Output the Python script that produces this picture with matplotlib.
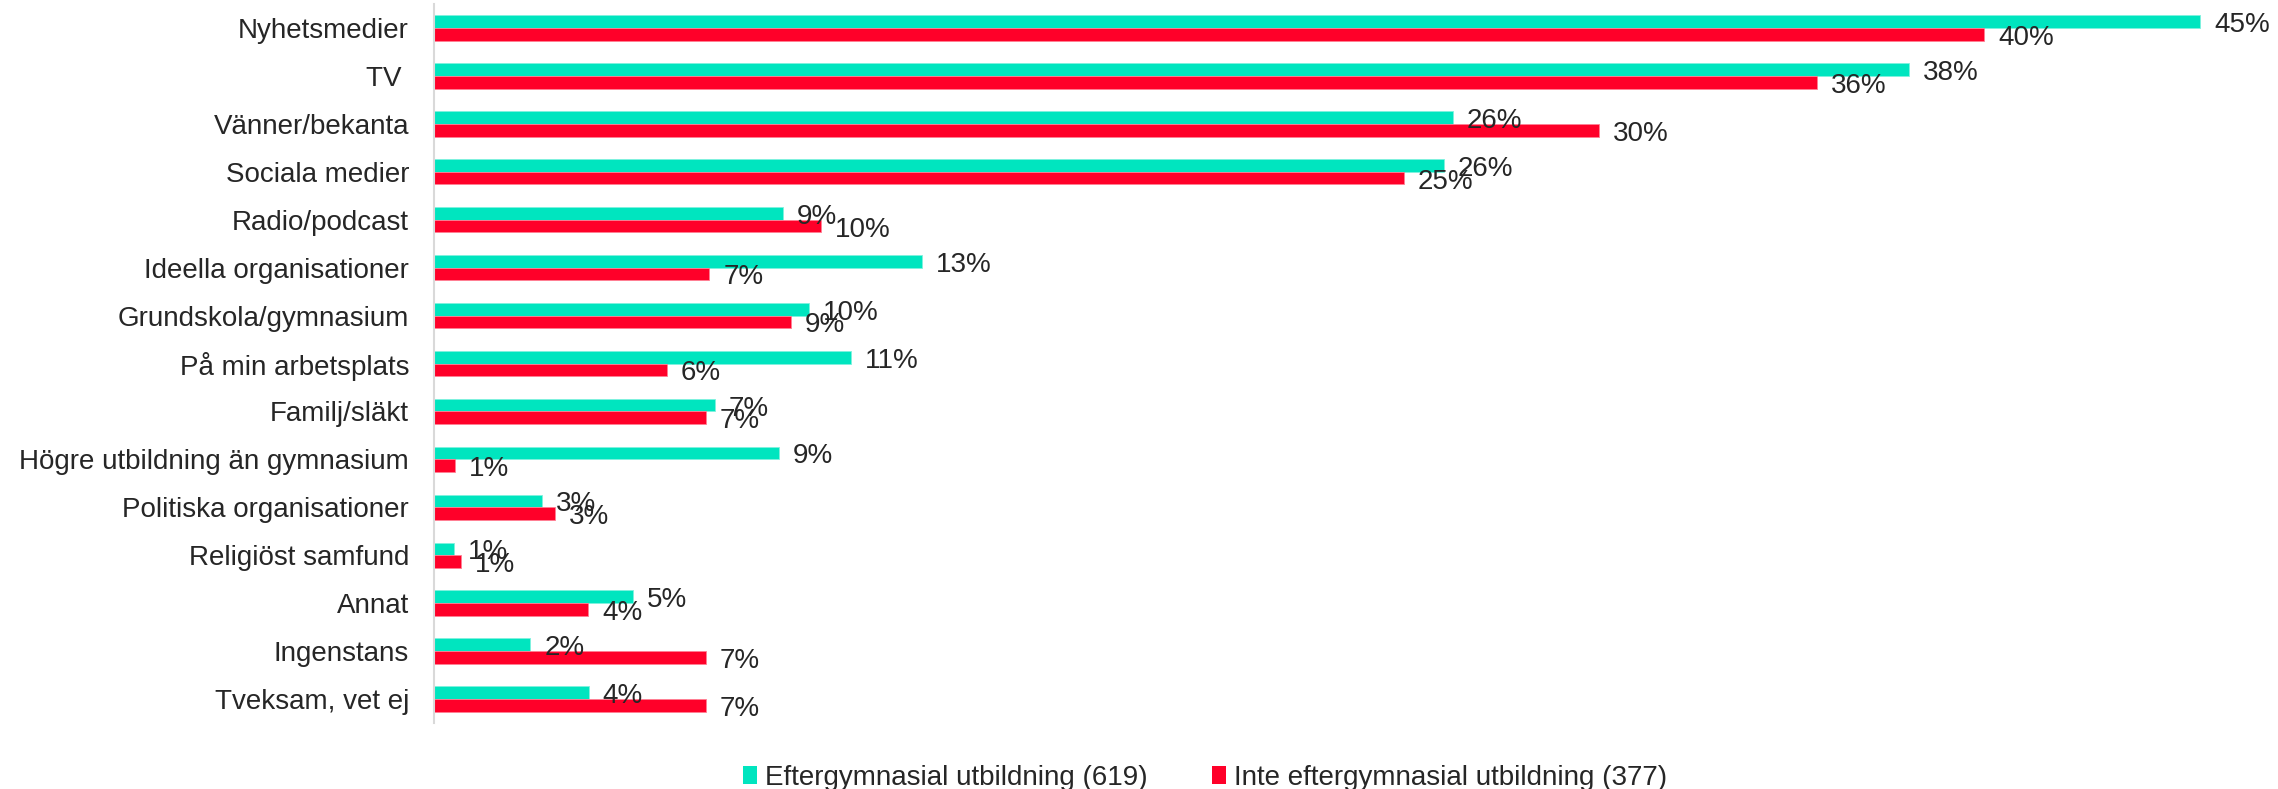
import matplotlib.pyplot as plt
from matplotlib.patches import Patch
import numpy as np

# data
categories = [
    "Nyhetsmedier", "TV ", "Vänner/bekanta", "Sociala medier", "Radio/podcast",
    "Ideella organisationer", "Grundskola/gymnasium", "På min arbetsplats",
    "Familj/släkt", "Högre utbildning än gymnasium", "Politiska organisationer",
    "Religiöst samfund", "Annat", "Ingenstans", "Tveksam, vet ej",
]
eftergymnasial = [45.4, 37.93, 26.19, 25.96, 8.97, 12.54, 9.64, 10.72, 7.22, 8.87,
                  2.78, 0.52, 5.12, 2.48, 3.98]
inte_eftergymnasial = [39.85, 35.56, 29.96, 24.94, 9.94, 7.08, 9.18, 5.98, 6.99, 0.54,
                       3.11, 0.69, 3.96, 6.99, 6.99]
series_names = ["Eftergymnasial utbildning (619)", "Inte eftergymnasial utbildning (377)"]

GREEN = "#00E5BF"
RED = "#FF0029"
TXT = "#262626"
FS = 20

plt.rcParams['font.family'] = ['Liberation Sans', 'DejaVu Sans']

W, H = 2278, 789
fig = plt.figure(figsize=(W / 100, H / 100), dpi=100)
ax_left = 434 / W
ax_top = 1 - 4 / H
ax_bottom = 1 - 723 / H
ax = fig.add_axes([ax_left, ax_bottom, 1 - ax_left, ax_top - ax_bottom])

y = np.arange(len(categories))
bh = 0.265
bars_g = ax.barh(y - bh / 2, eftergymnasial, height=bh, color=GREEN,
                 edgecolor="#7FF2DF", linewidth=0.6)
bars_r = ax.barh(y + bh / 2, inte_eftergymnasial, height=bh, color=RED,
                 edgecolor="#FF8094", linewidth=0.6)

# direct labels at the bar ends
for bars, vals in ((bars_g, eftergymnasial), (bars_r, inte_eftergymnasial)):
    for b, v in zip(bars, vals):
        ax.annotate(f"{round(v)}%",
                    xy=(b.get_width(), b.get_y() + b.get_height() / 2),
                    xytext=(10, -2.5), textcoords="offset points",
                    ha="left", va="center", fontsize=FS, color=TXT)

px_per_pct = 38.9
ax.set_xlim(0, (W - 434) / px_per_pct)
ax.set_ylim(len(categories) - 0.5, -0.5)
ax.set_yticks(y)
ax.set_yticklabels(categories, fontsize=FS, color=TXT)
ax.tick_params(axis="y", length=0, pad=18)
ax.set_xticks([])

for side in ("top", "right", "bottom"):
    ax.spines[side].set_visible(False)
ax.spines["left"].set_color("#D9D9D9")
ax.spines["left"].set_linewidth(1.5)

handles = [Patch(facecolor=GREEN, edgecolor="none"), Patch(facecolor=RED, edgecolor="none")]
fig.legend(handles, series_names, loc="center", bbox_to_anchor=(0.529, 1 - 778 / H),
           ncol=2, frameon=False, fontsize=FS, handlelength=0.5, handleheight=0.6,
           handletextpad=0.3, columnspacing=2.3, labelcolor=TXT)

fig.savefig("out.png", dpi=100)
